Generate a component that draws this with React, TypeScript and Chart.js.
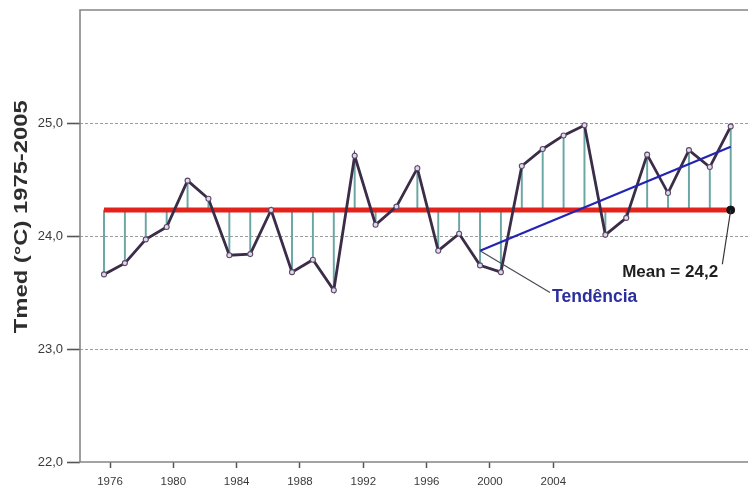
import React, { useEffect, useRef } from 'react';
import { Chart, registerables } from 'chart.js';

Chart.register(...registerables);

const years = [1975, 1976, 1977, 1978, 1979, 1980, 1981, 1982, 1983, 1984, 1985, 1986, 1987, 1988, 1989, 1990, 1991, 1992, 1993, 1994, 1995, 1996, 1997, 1998, 1999, 2000, 2001, 2002, 2003, 2004, 2005];
const tmed = [23.66, 23.76, 23.97, 24.08, 24.49, 24.33, 23.83, 23.84, 24.23, 23.68, 23.79, 23.52, 24.71, 24.10, 24.26, 24.60, 23.87, 24.02, 23.74, 23.68, 24.62, 24.77, 24.89, 24.98, 24.01, 24.16, 24.72, 24.38, 24.76, 24.61, 24.97];
const meanValue = 24.23;
const meanYears = [1975, 2005];
const trendYears = [1993, 2005];
const trendValues = [23.87, 24.79];
const xTickLabels = [1976, 1980, 1984, 1988, 1992, 1996, 2000, 2004];
const yTickValues = [22, 23, 24, 25];
const yTitle = 'Tmed (°C) 1975-2005';
const trendLabel = 'Tendência';
const meanLabel = 'Mean = 24,2';

const FONT = "'Liberation Sans', Arial, sans-serif";

const framePlugin = {
  id: 'frame',
  beforeDatasetsDraw(chart: any) {
    const { ctx, chartArea } = chart;
    ctx.save();
    ctx.strokeStyle = '#858585';
    ctx.lineWidth = 1.6;
    ctx.beginPath();
    ctx.moveTo(chartArea.left, chartArea.bottom);
    ctx.lineTo(chartArea.left, chartArea.top);
    ctx.lineTo(chart.width, chartArea.top);
    ctx.moveTo(chartArea.left - 1, chartArea.bottom);
    ctx.lineTo(chart.width, chartArea.bottom);
    ctx.stroke();
    ctx.restore();
  },
};

const annotationPlugin = {
  id: 'annotations',
  afterDatasetsDraw(chart: any) {
    const { ctx } = chart;
    const xs = chart.scales.x;
    const ys = chart.scales.y;
    ctx.save();
    // trend leader
    ctx.strokeStyle = '#4a4a55';
    ctx.lineWidth = 1.2;
    ctx.beginPath();
    ctx.moveTo(xs.getPixelForValue(trendYears[0]), ys.getPixelForValue(trendValues[0]));
    ctx.lineTo(xs.getPixelForValue(1996.35), ys.getPixelForValue(23.5));
    ctx.stroke();
    // mean leader
    ctx.strokeStyle = '#333';
    ctx.beginPath();
    ctx.moveTo(xs.getPixelForValue(meanYears[1]), ys.getPixelForValue(meanValue));
    ctx.lineTo(xs.getPixelForValue(2004.6), ys.getPixelForValue(23.75));
    ctx.stroke();
    // texts
    ctx.textBaseline = 'middle';
    ctx.font = `bold 17.5px ${FONT}`;
    ctx.fillStyle = '#2b2f9c';
    ctx.textAlign = 'left';
    ctx.fillText(trendLabel, xs.getPixelForValue(1996.45), ys.getPixelForValue(23.46));
    ctx.font = `bold 17px ${FONT}`;
    ctx.fillStyle = '#1e1e1e';
    ctx.textAlign = 'center';
    ctx.fillText(meanLabel, xs.getPixelForValue(2002.1), ys.getPixelForValue(23.675));
    // y axis title
    const cx = chart.chartArea.left - 58;
    const cy = ys.getPixelForValue(24.17);
    ctx.font = `bold 18px ${FONT}`;
    ctx.fillStyle = '#2e2e2e';
    const w = ctx.measureText(yTitle).width;
    const sx = 233 / w;
    ctx.translate(cx, cy);
    ctx.rotate(-Math.PI / 2);
    ctx.scale(sx, 1);
    ctx.textAlign = 'center';
    ctx.fillText(yTitle, 0, 0);
    ctx.restore();
  },
};

export default function App() {
  const ref = useRef<HTMLCanvasElement | null>(null);

  useEffect(() => {
    document.body.style.margin = '0';
    const canvas = ref.current;
    if (!canvas) return;
    const chart = new Chart(canvas, {
      type: 'line',
      data: {
        datasets: [
          {
            type: 'line',
            label: 'Tendência',
            data: trendYears.map((x, i) => ({ x, y: trendValues[i] })),
            borderColor: '#2424b4',
            borderWidth: 2.2,
            pointRadius: 0,
            xAxisID: 'x',
            yAxisID: 'y',
            order: 0,
          },
          {
            type: 'line',
            label: 'Tmed',
            data: years.map((x, i) => ({ x, y: tmed[i] })),
            borderColor: '#3b2c48',
            borderWidth: 2.8,
            pointRadius: 2.5,
            pointBorderWidth: 1.1,
            pointBackgroundColor: '#e4d8ec',
            pointBorderColor: '#5b4a6a',
            xAxisID: 'x',
            yAxisID: 'y',
            order: 1,
          },
          {
            type: 'line',
            label: 'Mean',
            data: meanYears.map((x) => ({ x, y: meanValue })),
            borderColor: '#e3221c',
            borderWidth: 5,
            pointRadius: [0, 4],
            pointBackgroundColor: '#141414',
            pointBorderColor: '#141414',
            pointBorderWidth: 1,
            xAxisID: 'x',
            yAxisID: 'y',
            order: 2,
          },
          {
            type: 'bar',
            label: 'dev',
            data: years.map((x, i) => ({ x, y: [meanValue, tmed[i]] })) as any,
            backgroundColor: '#6aa7a4',
            borderWidth: 0,
            barThickness: 1.3,
            xAxisID: 'x',
            yAxisID: 'y',
            order: 3,
          } as any,
        ],
      },
      options: {
        animation: false,
        responsive: false,
        devicePixelRatio: 1,
        events: [],
        layout: { autoPadding: false, padding: { top: 10, left: 0, right: 0, bottom: 0 } },
        plugins: { legend: { display: false }, tooltip: { enabled: false }, title: { display: false } },
        scales: {
          x: {
            type: 'linear',
            display: false,
            min: 1973.851,
            max: 2005.828,
            offset: false,
            grid: { offset: false },
          },
          x2: {
            type: 'linear',
            position: 'bottom',
            min: 1974.105,
            max: 2016.3,
            offset: false,
            afterBuildTicks: (scale: any) => {
              scale.ticks = xTickLabels.map((v) => ({ value: v }));
            },
            afterFit: (scale: any) => {
              scale.height = 29;
              scale.paddingLeft = 0;
              scale.paddingRight = 0;
            },
            grid: {
              offset: false,
              drawOnChartArea: false,
              drawTicks: true,
              tickLength: 6,
              tickColor: '#555',
              tickWidth: 1.5,
            },
            border: { display: false },
            ticks: {
              autoSkip: false,
              maxRotation: 0,
              padding: 7,
              color: '#3a3a3a',
              font: { family: FONT, size: 11.5 },
              callback: (v: any) => String(v),
            },
          },
          y: {
            type: 'linear',
            position: 'left',
            min: 22,
            max: 26,
            afterBuildTicks: (scale: any) => {
              scale.ticks = yTickValues.map((v) => ({ value: v }));
            },
            afterFit: (scale: any) => {
              scale.width = 80;
              scale.paddingTop = 0;
              scale.paddingBottom = 0;
            },
            grid: {
              color: (c: any) => (c.tick && c.tick.value === 22 ? 'rgba(0,0,0,0)' : '#9c9c9c'),
              lineWidth: 1,
              drawTicks: true,
              tickLength: 13,
              tickColor: '#555',
              tickWidth: 1.6,
            },
            border: { display: false, dash: [3, 2] },
            ticks: {
              padding: 4,
              color: '#3a3a3a',
              font: { family: FONT, size: 13 },
              callback: (v: any) => Number(v).toFixed(1).replace('.', ','),
            },
          },
        },
      },
      plugins: [framePlugin, annotationPlugin],
    });
    return () => chart.destroy();
  }, []);

  return (
    <div style={{ width: 748, height: 491 }}>
      <canvas ref={ref} width={748} height={491} style={{ display: 'block' }} />
    </div>
  );
}
